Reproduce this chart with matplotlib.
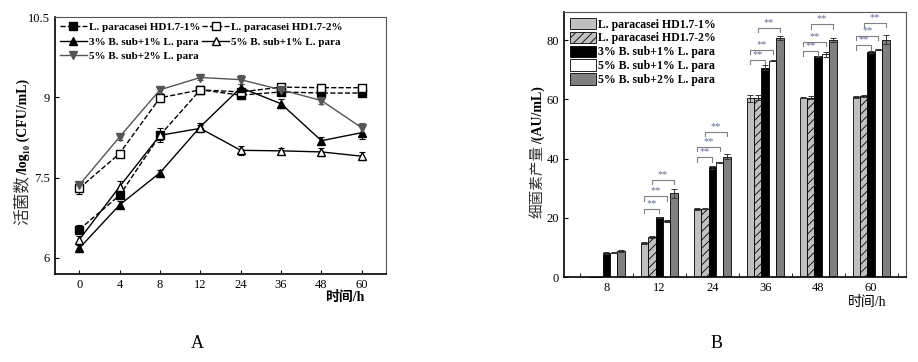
import matplotlib
matplotlib.use("Agg")
import matplotlib.pyplot as plt
import numpy as np

plt.rcParams['font.family'] = ['Liberation Serif', 'Noto Sans CJK SC', 'DejaVu Sans']
plt.rcParams['hatch.color'] = '#606060'
plt.rcParams['hatch.linewidth'] = 0.6

# ---- panel A data ----
hours_a = ['0', '4', '8', '12', '24', '36', '48', '60']
lp1 = [6.53, 7.17, 8.29, 9.14, 9.04, 9.10, 9.08, 9.08]
lp1_err = [0.08, 0.06, 0.08, 0.05, 0.08, 0.05, 0.05, 0.05]
lp2 = [7.30, 7.95, 8.99, 9.14, 9.10, 9.19, 9.18, 9.18]
lp2_err = [0.10, 0.07, 0.08, 0.05, 0.06, 0.05, 0.06, 0.05]
b3l1 = [6.18, 6.99, 7.59, 8.45, 9.18, 8.88, 8.19, 8.34]
b3l1_err = [0.07, 0.07, 0.06, 0.07, 0.06, 0.08, 0.07, 0.12]
b5l1 = [6.34, 7.33, 8.29, 8.42, 8.01, 8.00, 7.98, 7.90]
b5l1_err = [0.07, 0.10, 0.13, 0.06, 0.08, 0.05, 0.07, 0.08]
b5l2 = [7.36, 8.26, 9.14, 9.37, 9.33, 9.14, 8.94, 8.43]
b5l2_err = [0.06, 0.05, 0.06, 0.04, 0.09, 0.05, 0.06, 0.09]

# ---- panel B data ----
hours_b = ['8', '12', '24', '36', '48', '60']
groups_b = ['L. paracasei HD1.7-1%', 'L. paracasei HD1.7-2%',
            '3% B. sub+1% L. para', '5% B. sub+1% L. para', '5% B. sub+2% L. para']
bac = [
    [0, 11.4, 23.0, 60.3, 60.6, 60.8],
    [0, 13.5, 23.0, 60.5, 60.6, 61.1],
    [8.0, 20.1, 37.0, 70.7, 74.5, 76.0],
    [8.2, 18.9, 38.7, 73.1, 75.2, 76.8],
    [8.8, 28.3, 40.6, 80.7, 80.1, 80.1],
]
bac_err = [
    [0, 0.3, 0.3, 1.2, 0.2, 0.2],
    [0, 0.4, 0.2, 0.8, 0.5, 0.3],
    [0.3, 0.3, 0.4, 0.8, 0.3, 0.3],
    [0.2, 0.2, 0.3, 0.3, 0.8, 0.3],
    [0.3, 1.5, 0.8, 0.8, 0.7, 1.5],
]
# significance brackets: (group index, bar i, bar j, height)
sig = [
    (1, 0, 2, 23.0), (1, 0, 3, 27.2), (1, 1, 4, 32.8),
    (2, 0, 2, 40.4), (2, 0, 3, 44.0), (2, 1, 4, 49.0),
    (3, 0, 2, 73.4), (3, 0, 3, 76.8), (3, 1, 4, 84.2),
    (4, 0, 2, 76.2), (4, 0, 3, 79.5), (4, 1, 4, 85.3),
    (5, 0, 2, 78.2), (5, 0, 3, 81.3), (5, 1, 4, 85.7),
]

fig = plt.figure(figsize=(9.18, 3.62), dpi=100)


def two_part_ylabel(x_px, yc_px, part1, part2, size1, size2, color1='#333333'):
    # rotated label: regular Chinese part followed by bold latin part
    r = fig.canvas.get_renderer()
    t1 = fig.text(0, 0, part1, rotation=90, fontsize=size1, color=color1)
    t2 = fig.text(0, 0, part2, rotation=90, fontsize=size2, fontweight='bold')
    h1 = t1.get_window_extent(r).height
    h2 = t2.get_window_extent(r).height
    y0 = (362 - yc_px) - (h1 + h2) / 2
    t1.set_position((x_px / 918, y0 / 362))
    t1.set_ha('center'); t1.set_va('bottom')
    t2.set_position((x_px / 918, (y0 + h1) / 362))
    t2.set_ha('center'); t2.set_va('bottom')


# ================= A =================
ax1 = fig.add_axes([55 / 918, 1 - 274 / 362, 331 / 918, 257 / 362])
x = np.arange(len(hours_a))
ebkw = dict(capsize=2.5, elinewidth=0.8, capthick=0.8, ms=6)
h1 = ax1.errorbar(x, lp1, yerr=lp1_err, fmt='s', ls='--', color='black', lw=1,
                  mfc='black', mec='black', **ebkw)
h2 = ax1.errorbar(x, lp2, yerr=lp2_err, fmt='s', ls='--', color='black', lw=1,
                  mfc='white', mec='black', **ebkw)
h3 = ax1.errorbar(x, b3l1, yerr=b3l1_err, fmt='^', ls='-', color='black', lw=1,
                  mfc='black', mec='black', **ebkw)
h4 = ax1.errorbar(x, b5l1, yerr=b5l1_err, fmt='^', ls='-', color='black', lw=1,
                  mfc='white', mec='black', **ebkw)
h5 = ax1.errorbar(x, b5l2, yerr=b5l2_err, fmt='v', ls='-', color='#555555', lw=1,
                  mfc='#555555', mec='#555555', **ebkw)
ax1.set_xlim(-0.6, 7.6)
ax1.set_ylim(5.7, 10.5)
ax1.set_yticks([6, 7.5, 9, 10.5])
ax1.set_yticklabels(['6', '7.5', '9', '10.5'])
ax1.set_xticks(x)
ax1.set_xticklabels(hours_a)
ax1.tick_params(direction='in', length=3, labelsize=9, width=0.8)
ax1.text(0.935, -0.065, '时间/h', transform=ax1.transAxes, ha='right', va='top',
         fontsize=10, fontweight='bold')
leg_order = [h1[0], h3[0], h5[0], h2[0], h4[0]]
leg_labels = ['L. paracasei HD1.7-1%', '3% B. sub+1% L. para', '5% B. sub+2% L. para',
              'L. paracasei HD1.7-2%', '5% B. sub+1% L. para']
ax1.legend(leg_order, leg_labels, ncol=2, loc='upper left', frameon=False,
           prop={'weight': 'bold', 'size': 8}, handlelength=2.4, handletextpad=0.2,
           columnspacing=0.2, labelspacing=0.45, borderaxespad=0.25, borderpad=0.2)
for s in ['left', 'bottom']:
    ax1.spines[s].set_linewidth(1.2)
for s in ['top', 'right']:
    ax1.spines[s].set_color('#555555')
two_part_ylabel(23, 152, '活菌数', '/log₁₀ (CFU/mL)', 12, 10)
fig.text(197 / 918, 1 - 343 / 362, 'A', ha='center', va='center', fontsize=13)

# ================= B =================
ax2 = fig.add_axes([564 / 918, 1 - 277 / 362, 342 / 918, 265 / 362])
xb = np.arange(len(hours_b))
w = 0.14
faces = ['#c0c0c0', '#c0c0c0', 'black', 'white', '#808080']
hatches = [None, '////', None, None, None]
for i in range(5):
    pos = xb + (i - 2) * w
    ax2.bar(pos, bac[i], width=w, color=faces[i], edgecolor='black', linewidth=0.6,
            hatch=hatches[i], label=groups_b[i],
            yerr=bac_err[i], error_kw=dict(elinewidth=0.7, capsize=2, capthick=0.7,
                                            ecolor='#333333'))
for g, i, j, yy in sig:
    x0 = xb[g] + (i - 2) * w
    x1 = xb[g] + (j - 2) * w
    ax2.plot([x0, x0, x1, x1], [yy - 1.4, yy, yy, yy - 1.4], color='#808080', lw=0.8)
    ax2.text((x0 + x1) / 2, yy + 0.3, '**', ha='center', va='bottom', fontsize=7.5,
             color='#6a7090')
ax2.set_xlim(-0.8, 5.66)
ax2.set_ylim(0, 89.5)
ax2.set_yticks([0, 20, 40, 60, 80])
ax2.set_xticks(xb)
ax2.set_xticklabels(hours_b)
ax2.set_xticks(np.arange(-0.5, 5.6, 1), minor=True)
ax2.tick_params(axis='x', which='major', length=0)
ax2.tick_params(axis='x', which='minor', direction='in', length=3)
ax2.tick_params(axis='y', direction='in', length=3)
ax2.tick_params(labelsize=9)
ax2.text(0.944, -0.072, '时间/h', transform=ax2.transAxes, ha='right', va='top',
         fontsize=10)
ax2.legend(loc='upper left', frameon=False, prop={'weight': 'bold', 'size': 8.5},
           handlelength=2.2, handleheight=1.1, handletextpad=0.2, labelspacing=0.1,
           borderaxespad=0.2, borderpad=0.3)
for s in ['left', 'bottom']:
    ax2.spines[s].set_linewidth(1.2)
for s in ['top', 'right']:
    ax2.spines[s].set_color('#555555')
two_part_ylabel(538, 152, '细菌素产量', '/(AU/mL)', 10.5, 10)
fig.text(717 / 918, 1 - 343 / 362, 'B', ha='center', va='center', fontsize=13)

fig.savefig('out.png', dpi=100)
